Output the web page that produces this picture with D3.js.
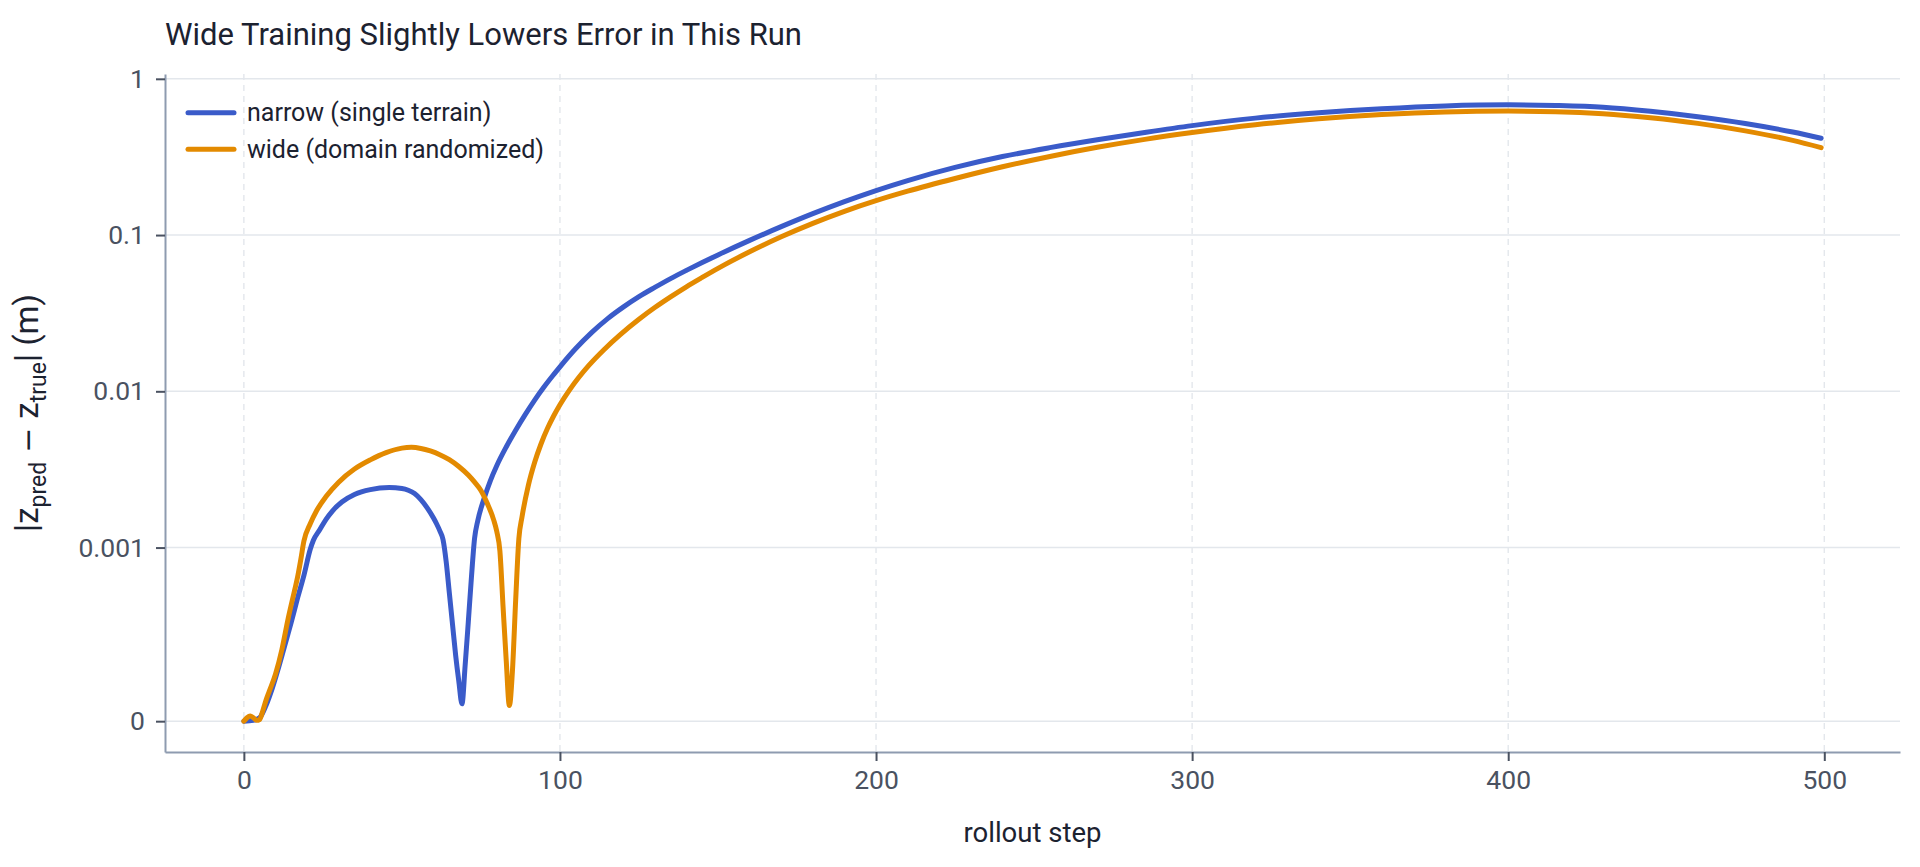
<!DOCTYPE html>
<html>
<head>
<meta charset="utf-8">
<script src="https://cdn.jsdelivr.net/npm/d3@7"></script>
<style>
  html, body { margin: 0; padding: 0; background: #ffffff; }
  svg { display: block; }
</style>
</head>
<body>
<svg id="chart" width="1920" height="867"></svg>
<script>
// ---------------- data ----------------
const chartTitle = "Wide Training Slightly Lowers Error in This Run";
const xLabel = "rollout step";
const xTicks = [0, 100, 200, 300, 400, 500];
const yTickValues = [0, 0.001, 0.01, 0.1, 1];
const yTickLabels = ["0", "0.001", "0.01", "0.1", "1"];
const seriesNames = ["narrow (single terrain)", "wide (domain randomized)"];
const seriesColors = ["#3a5bc9", "#e38a00"];

const narrowSteps = [0, 3, 5, 7, 9, 11, 13, 15, 17, 19, 21, 22, 24, 26, 28, 31, 35, 40, 46, 50, 52, 54, 56, 58, 60, 61, 62, 63, 64, 65, 66, 67, 68, 69, 70, 71, 72, 73, 74, 76, 78, 80, 83, 86, 89, 92, 95, 98, 100, 105, 110, 115, 120, 125, 130, 135, 140, 145, 150, 160, 170, 180, 190, 200, 210, 225, 240, 255, 270, 285, 300, 320, 340, 360, 380, 400, 415, 430, 445, 460, 475, 490, 499];
const narrowErr = [0, 0.000005, 0.00002, 0.00009, 0.00019, 0.00031, 0.00044, 0.00057, 0.00071, 0.00084, 0.00099, 0.001113, 0.0013, 0.001517, 0.001714, 0.001959, 0.002188, 0.00235, 0.00242, 0.002387, 0.002328, 0.002218, 0.002028, 0.001795, 0.001545, 0.001415, 0.001279, 0.001128, 0.00092, 0.00074, 0.00056, 0.00038, 0.00023, 0.0001, 0.00032, 0.00057, 0.00083, 0.00115, 0.001486, 0.00206, 0.002685, 0.003341, 0.004404, 0.005635, 0.007094, 0.008788, 0.01069, 0.01279, 0.01435, 0.01879, 0.02376, 0.0291, 0.03458, 0.04035, 0.04623, 0.05266, 0.05942, 0.06675, 0.07464, 0.09244, 0.1132, 0.1371, 0.1637, 0.1927, 0.2233, 0.2709, 0.318, 0.3626, 0.4078, 0.4539, 0.5017, 0.5603, 0.6059, 0.6435, 0.6707, 0.6816, 0.6746, 0.6577, 0.6195, 0.5717, 0.5176, 0.4563, 0.4161];

const wideSteps = [0, 1, 2, 3, 4, 5, 6, 7, 8, 10, 12, 14, 16, 17, 18, 19, 21, 23, 26, 30, 35, 40, 45, 50, 53, 56, 59, 62, 65, 68, 71, 73, 75, 77, 79, 80, 81, 82, 83, 84, 85, 86, 87, 88, 90, 92, 94, 96, 98, 100, 103, 106, 109, 114, 119, 125, 130, 135, 140, 145, 150, 160, 170, 180, 190, 200, 210, 225, 240, 255, 270, 285, 300, 320, 340, 360, 380, 400, 415, 430, 445, 460, 475, 490, 499];
const wideErr = [0, 0.00002, 0.00003, 0.00002, 0.000005, 0.00001, 0.00006, 0.00012, 0.00017, 0.00027, 0.00041, 0.00059, 0.00075, 0.00083, 0.00093, 0.0011, 0.00142, 0.00172, 0.00212, 0.00262, 0.00318, 0.00364, 0.00405, 0.00433, 0.00438, 0.00431, 0.00415, 0.00393, 0.00365, 0.0033, 0.00291, 0.00262, 0.00232, 0.00192, 0.00151, 0.00127, 0.00098, 0.00066, 0.00035, 0.00009, 0.0003, 0.0007, 0.00114, 0.00157, 0.0025, 0.003515, 0.004601, 0.005754, 0.00695, 0.008203, 0.01018, 0.01229, 0.01454, 0.01853, 0.02296, 0.0289, 0.03435, 0.0402, 0.04666, 0.05357, 0.06123, 0.07815, 0.09747, 0.1188, 0.1419, 0.166, 0.1909, 0.2301, 0.2735, 0.3184, 0.3643, 0.4097, 0.4529, 0.5081, 0.5545, 0.59, 0.6136, 0.6215, 0.6164, 0.5982, 0.5634, 0.5187, 0.4645, 0.4036, 0.3629];

// ---------------- scales ----------------
const FONT = "Roboto, 'Noto Sans', 'DejaVu Sans', sans-serif";
const LINTHRESH = 0.001, LINSCALE = 1, BASE = 10;
const LINSCALE_ADJ = LINSCALE / (1 - 1 / BASE);
function symlog(v) {
  const a = Math.abs(v), s = v < 0 ? -1 : 1;
  return s * (a <= LINTHRESH ? a / LINTHRESH * LINSCALE_ADJ : LINSCALE_ADJ + Math.log10(a / LINTHRESH));
}

const plot = { left: 165, right: 1900, top: 74, bottom: 752 };

const series = [
  { name: seriesNames[0], color: seriesColors[0], pts: narrowSteps.map((s, i) => [s, narrowErr[i]]) },
  { name: seriesNames[1], color: seriesColors[1], pts: wideSteps.map((s, i) => [s, wideErr[i]]) }
];

const allX = series.flatMap(s => s.pts.map(p => p[0]));
const allT = series.flatMap(s => s.pts.map(p => symlog(p[1])));
const xMin = d3.min(allX), xMax = d3.max(allX);
const tMin = d3.min(allT), tMax = d3.max(allT);
const xPad = 0.05 * (xMax - xMin), tPad = 0.05 * (tMax - tMin);

const x = d3.scaleLinear().domain([xMin - xPad, xMax + xPad]).range([plot.left, plot.right]);
const y = d3.scaleLinear().domain([tMin - tPad, tMax + tPad]).range([plot.bottom, plot.top]);

const svg = d3.select("#chart");

// ---------------- grid ----------------
const grid = svg.append("g");
grid.selectAll("line.h").data(yTickValues).join("line")
  .attr("x1", plot.left).attr("x2", plot.right)
  .attr("y1", d => y(symlog(d))).attr("y2", d => y(symlog(d)))
  .attr("stroke", "#e3e7ec").attr("stroke-width", 1.6);
grid.selectAll("line.v").data(xTicks).join("line")
  .attr("y1", plot.top).attr("y2", plot.bottom)
  .attr("x1", d => x(d)).attr("x2", d => x(d))
  .attr("stroke", "#e3e7ec").attr("stroke-width", 1.4)
  .attr("stroke-dasharray", "6,5");

// ---------------- lines ----------------
const line = d3.line()
  .x(d => x(d[0]))
  .y(d => y(symlog(d[1])))
  .curve(d3.curveMonotoneX);

svg.append("g").selectAll("path").data(series).join("path")
  .attr("d", d => line(d.pts))
  .attr("fill", "none")
  .attr("stroke", d => d.color)
  .attr("stroke-width", 5)
  .attr("stroke-linejoin", "round")
  .attr("stroke-linecap", "round");

// ---------------- axes ----------------
const axisColor = "#8e9bb0";
const tickColor = "#4a5261";
const xAxis = svg.append("g")
  .attr("transform", `translate(0,${plot.bottom})`)
  .call(d3.axisBottom(x).tickValues(xTicks).tickFormat(d3.format("d"))
    .tickSize(9).tickSizeOuter(0).tickPadding(9));
const yAxis = svg.append("g")
  .attr("transform", `translate(${plot.left},0)`)
  .call(d3.axisLeft(y).tickValues(yTickValues.map(symlog))
    .tickFormat((d, i) => yTickLabels[i])
    .tickSize(9).tickSizeOuter(0).tickPadding(11));

[xAxis, yAxis].forEach(ax => {
  ax.select(".domain").attr("stroke", axisColor).attr("stroke-width", 2);
  ax.selectAll(".tick line").attr("stroke", tickColor).attr("stroke-width", 2);
  ax.selectAll(".tick text")
    .attr("fill", tickColor)
    .style("font-family", FONT)
    .style("font-size", "26.5px");
});

// ---------------- labels ----------------
svg.append("text")
  .attr("x", plot.left).attr("y", 45)
  .attr("fill", "#1c2230")
  .style("font-family", FONT).style("font-size", "31px")
  .text(chartTitle);

svg.append("text")
  .attr("x", (plot.left + plot.right) / 2).attr("y", 842)
  .attr("text-anchor", "middle")
  .attr("fill", "#1c2230")
  .style("font-family", FONT).style("font-size", "27.5px")
  .text(xLabel);

const yl = svg.append("text")
  .attr("transform", `translate(38,${(plot.top + plot.bottom) / 2}) rotate(-90)`)
  .attr("text-anchor", "middle")
  .attr("fill", "#1c2230")
  .style("font-family", FONT).style("font-size", "33px");
yl.append("tspan").text("|z");
yl.append("tspan").attr("dy", 8).style("font-size", "23px").text("pred");
yl.append("tspan").attr("dy", -8).attr("dx", 9)
  .style("font-family", "'DejaVu Sans', sans-serif").style("font-size", "30px").text("\u2212");
yl.append("tspan").attr("dx", 9).text("z");
yl.append("tspan").attr("dy", 8).style("font-size", "23px").text("true");
yl.append("tspan").attr("dy", -8).text("| (m)");

// ---------------- legend ----------------
const legend = svg.append("g");
const legRows = [112.7, 149.3];
series.forEach((s, i) => {
  legend.append("line")
    .attr("x1", 188).attr("x2", 234)
    .attr("y1", legRows[i]).attr("y2", legRows[i])
    .attr("stroke", s.color).attr("stroke-width", 5)
    .attr("stroke-linecap", "round");
  legend.append("text")
    .attr("x", 247).attr("y", legRows[i])
    .attr("dominant-baseline", "central")
    .attr("fill", "#1c2230")
    .style("font-family", FONT).style("font-size", "25px")
    .text(s.name);
});
</script>
</body>
</html>
